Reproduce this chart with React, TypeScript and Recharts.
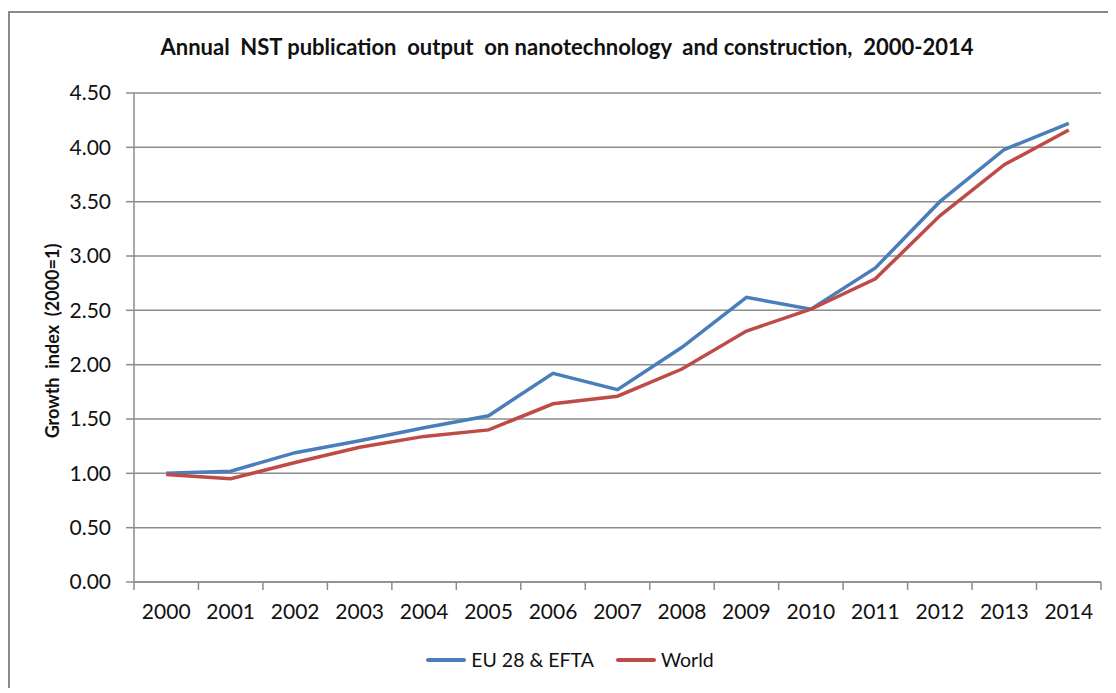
import React from 'react';
import { LineChart, Line, XAxis, YAxis, CartesianGrid, Legend } from 'recharts';

const years = ['2000', '2001', '2002', '2003', '2004', '2005', '2006', '2007', '2008', '2009', '2010', '2011', '2012', '2013', '2014'];
const euValues = [1.0, 1.02, 1.19, 1.3, 1.42, 1.53, 1.92, 1.77, 2.16, 2.62, 2.51, 2.89, 3.5, 3.98, 4.22];
const worldValues = [0.99, 0.95, 1.1, 1.24, 1.34, 1.4, 1.64, 1.71, 1.96, 2.31, 2.51, 2.79, 3.37, 3.84, 4.16];
const yTicks = [0, 0.5, 1, 1.5, 2, 2.5, 3, 3.5, 4, 4.5];
const seriesNames = ['EU 28 & EFTA', 'World'];
const title = 'Annual  NST publication  output  on nanotechnology  and construction,  2000-2014';
const yLabel = 'Growth  index  (2000=1)';

const W = 1100;
const H = 680;
const MARGIN = { top: 85, right: 7, bottom: 76, left: 0 };
const Y_WIDTH = 126;
const PLOT_W = W - MARGIN.left - MARGIN.right - Y_WIDTH;
const BAND = PLOT_W / years.length;

const data = years.map((y, i) => ({ x: i + 0.5, year: y, eu: euValues[i], world: worldValues[i] }));
const xTicks = years.map((_, i) => i).concat([years.length]);

const FONT = 'Lato, "Open Sans", sans-serif';
const GRID = '#8c8c8c';
const BLUE = '#4a7ebb';
const RED = '#be4b48';

const XTick = (props: any) => {
  const { x, y, payload } = props;
  const i = payload.value;
  if (i >= years.length) return null;
  return (
    <text x={x + BAND / 2} y={y} dy="0.71em" textAnchor="middle" fontSize={21} fill="#111" fontFamily={FONT}>
      {years[i]}
    </text>
  );
};

const LegendContent = () => {
  const colors = [BLUE, RED];
  return (
    <div style={{ display: 'flex', justifyContent: 'center', alignItems: 'center', fontFamily: FONT, fontSize: 19.5, color: '#111' }}>
      {seriesNames.map((n, i) => (
        <div key={n} style={{ display: 'flex', alignItems: 'center', marginLeft: i === 0 ? 0 : 22 }}>
          <span style={{ display: 'inline-block', width: 40, height: 4, background: colors[i], marginRight: 5, borderRadius: 2 }} />
          <span>{n}</span>
        </div>
      ))}
    </div>
  );
};

export default function App() {
  return (
    <div style={{ position: 'relative', width: W, height: H, overflow: 'hidden', background: '#fff' }}>
      <div style={{ position: 'absolute', left: 0, top: 3, width: W + 20, height: H + 20, border: '2px solid #8a8a8a', boxSizing: 'border-box' }} />
      <div style={{ position: 'absolute', left: 0, width: 1118, top: 25, textAlign: 'center', fontFamily: FONT, fontWeight: 700, fontSize: 22, color: '#111', whiteSpace: 'pre' }}>
        {title}
      </div>
      <div style={{ position: 'absolute', left: 44, top: 333, width: 0, height: 0 }}>
        <div style={{ position: 'absolute', transform: 'translate(-50%, -50%) rotate(-90deg)', whiteSpace: 'pre', fontFamily: FONT, fontWeight: 700, fontSize: 18, color: '#111' }}>
          {yLabel}
        </div>
      </div>
      <LineChart width={W} height={H} data={data} margin={MARGIN} style={{ position: 'absolute', left: 0, top: 0 }}>
        <CartesianGrid horizontal vertical={false} stroke={GRID} strokeWidth={1.5} />
        <XAxis
          type="number"
          dataKey="x"
          domain={[0, years.length]}
          ticks={xTicks}
          interval={0}
          height={30}
          tick={<XTick />}
          tickSize={8}
          tickMargin={14}
          axisLine={{ stroke: GRID, strokeWidth: 1.5 }}
          tickLine={{ stroke: GRID, strokeWidth: 1.5 }}
        />
        <YAxis
          domain={[0, 4.5]}
          ticks={yTicks}
          interval={0}
          width={Y_WIDTH}
          tickFormatter={(v: number) => v.toFixed(2)}
          tick={{ fontSize: 21, fill: '#111', fontFamily: FONT }}
          tickSize={8}
          tickMargin={15}
          axisLine={{ stroke: GRID, strokeWidth: 1.5 }}
          tickLine={{ stroke: GRID, strokeWidth: 1.5 }}
        />
        <Legend
          layout="horizontal"
          verticalAlign="middle"
          align="center"
          content={<LegendContent />}
          wrapperStyle={{ top: 640, left: 12, width: W, height: 26 }}
        />
        <Line type="linear" dataKey="eu" name={seriesNames[0]} stroke={BLUE} strokeWidth={3.5} dot={false} isAnimationActive={false} />
        <Line type="linear" dataKey="world" name={seriesNames[1]} stroke={RED} strokeWidth={3.5} dot={false} isAnimationActive={false} />
      </LineChart>
    </div>
  );
}
